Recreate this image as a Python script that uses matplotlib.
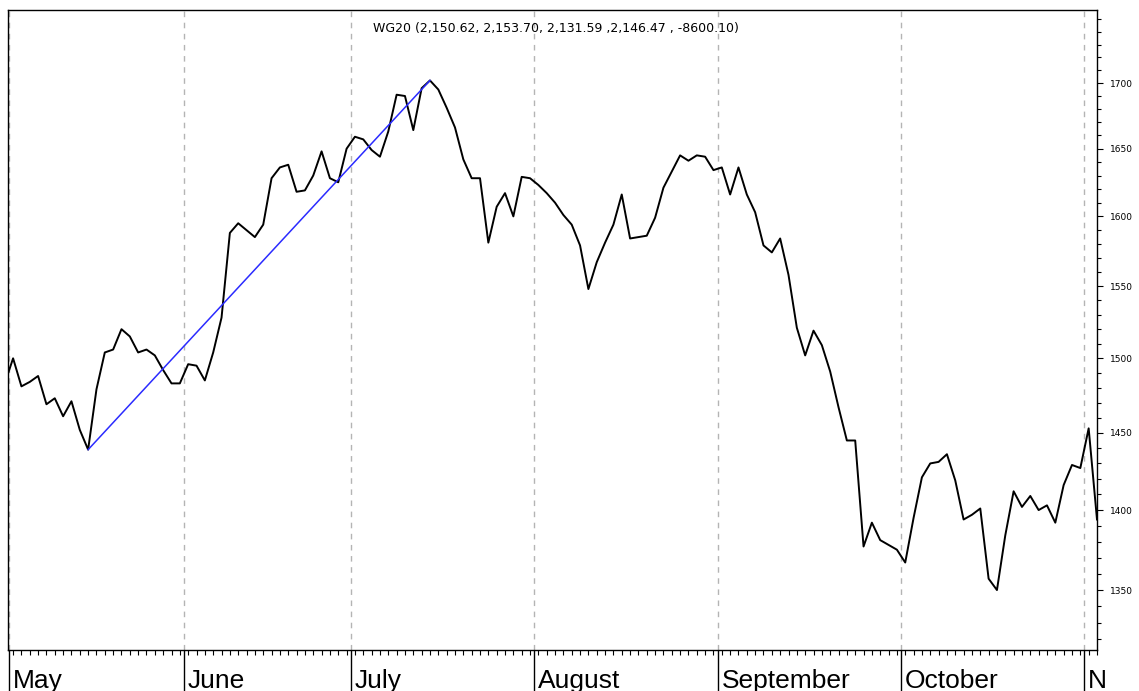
import numpy as np
import matplotlib
matplotlib.use('Agg')
import matplotlib.pyplot as plt
from matplotlib.transforms import blended_transform_factory
from matplotlib.ticker import NullFormatter

# daily closes, first value = last session of April
close = [1483, 1500, 1481, 1484, 1488, 1469, 1473, 1461, 1471, 1452,
         1439, 1479, 1504, 1506, 1520, 1515, 1504, 1506, 1502, 1492,
         1483, 1483, 1496, 1495, 1485, 1504, 1528, 1588, 1595, 1590,
         1585, 1594, 1628, 1636, 1638, 1618, 1619, 1630, 1648, 1628,
         1625, 1650, 1659, 1657, 1649, 1644, 1663, 1691, 1690, 1664,
         1696, 1702, 1695, 1681, 1666, 1642, 1628, 1628, 1581, 1607,
         1617, 1600, 1629, 1628, 1623, 1617, 1610, 1601, 1594, 1579,
         1548, 1567, 1581, 1594, 1616, 1584, 1585, 1586, 1599, 1621,
         1633, 1645, 1641, 1645, 1644, 1634, 1636, 1616, 1636, 1616,
         1603, 1579, 1574, 1584, 1558, 1521, 1502, 1519, 1509, 1491,
         1467, 1445, 1445, 1377, 1392, 1381, 1378, 1375, 1367, 1395,
         1421, 1430, 1431, 1436, 1419, 1394, 1397, 1401, 1357, 1350,
         1384, 1412, 1402, 1409, 1400, 1403, 1392, 1416, 1429, 1427,
         1453, 1394]

months = ['May', 'June', 'July', 'August', 'September', 'October', 'N']
month_start = [1, 22, 42, 64, 86, 108, 130]   # session index of first day

y_major = [1350, 1400, 1450, 1500, 1550, 1600, 1650, 1700]
y_minor = list(range(1320, 1760, 10))

title = 'WG20 (2,150.62, 2,153.70, 2,131.59 ,2,146.47 , -8600.10)'

days = np.arange(len(close))
close = np.array(close)

fig = plt.figure(figsize=(11.39, 6.91), dpi=100)
ax = fig.add_axes([8/1139, 41/691, 1089/1139, 640/691])

# month separators
bounds = [m - 0.5 for m in month_start]
for b in bounds:
    ax.axvline(b, color='#b4b4b4', lw=1.0, ls=(0, (4, 4)), zorder=1)

ax.plot(days, close, color='black', lw=1.4, zorder=3)

# trend line from the May low to the July high
i_lo = int(np.argmin(close[:30]))
i_hi = int(np.argmax(close))
ax.plot([i_lo, i_hi], [close[i_lo], close[i_hi]], color='#2b2bff', lw=1.1, zorder=4)

ax.set_yscale('log')
ax.set_xlim(0.39, 130.37)
ax.set_ylim(1313.7, 1757.4)

ax.yaxis.tick_right()
ax.set_yticks(y_major)
ax.set_yticklabels([str(v) for v in y_major])
ax.set_yticks(y_minor, minor=True)
ax.yaxis.set_minor_formatter(NullFormatter())
ax.tick_params(axis='y', which='both', left=False, right=True)
ax.tick_params(axis='y', which='major', length=4.5, width=0.8, pad=5, labelsize=6.5)
ax.tick_params(axis='y', which='minor', length=3, width=0.8)

ax.set_xticks(bounds)
ax.set_xticklabels([])
ax.set_xticks(np.arange(1, len(close)), minor=True)
ax.tick_params(axis='x', which='major', length=30, width=1.0)
ax.tick_params(axis='x', which='minor', length=3.6, width=0.8)

trans = blended_transform_factory(ax.transData, ax.transAxes)
for b, name in zip(bounds, months):
    ax.text(b + 0.45, -0.0594, name, transform=trans, ha='left', va='baseline',
            fontsize=19, family='Liberation Sans', clip_on=False)

ax.text(0.503, 0.982, title, transform=ax.transAxes, ha='center', va='top',
        fontsize=9)

for s in ax.spines.values():
    s.set_linewidth(1.0)

fig.savefig('out.png', dpi=100)
